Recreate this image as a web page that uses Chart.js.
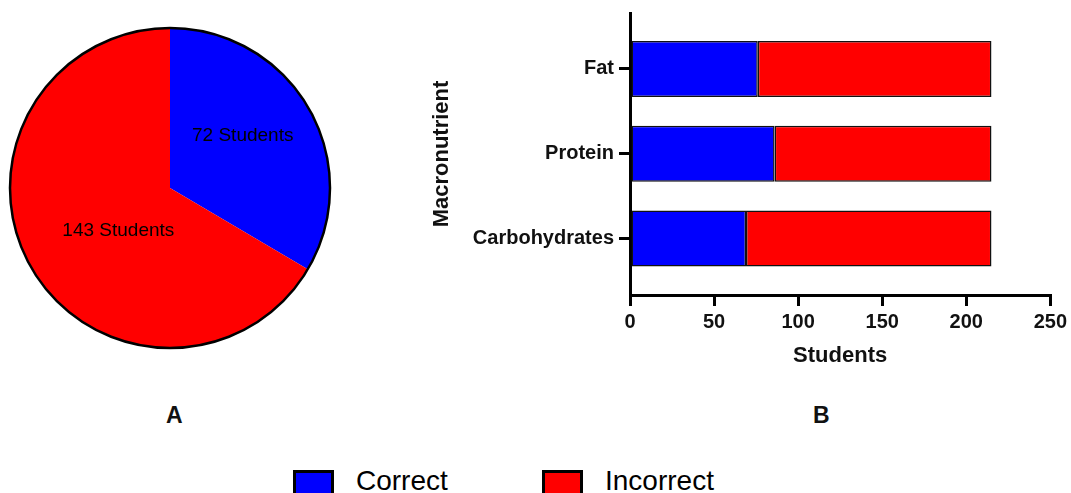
<!DOCTYPE html>
<html>
<head>
<meta charset="utf-8">
<script src="https://cdn.jsdelivr.net/npm/chart.js@4/dist/chart.umd.min.js"></script>
<style>
    body { margin: 0; background: #fff; width: 1071px; height: 493px; overflow: hidden; position: relative; font-family: 'Liberation Sans', Arial, sans-serif; }
    .box { position: absolute; }
    .panel { position: absolute; font-weight: bold; font-size: 23px; line-height: 1; color: #111; }
    .legend-box { position: absolute; width: 35px; height: 22px; border: 3px solid #000; }
    .legend-text { position: absolute; font-size: 28px; line-height: 1; color: #000; }
</style>
</head>
<body>
<div class="box" style="left:0; top:0; width:340px; height:376px;"><canvas id="pieChart"></canvas></div>
<div class="box" style="left:420px; top:0; width:651px; height:380px;"><canvas id="barChart"></canvas></div>

<div class="panel" style="left:166px; top:404px;">A</div>
<div class="panel" style="left:813px; top:404px;">B</div>

<div class="legend-box" style="left:293px; top:470px; background:#0000ff;"></div>
<div class="legend-text" style="left:356px; top:467px;">Correct</div>
<div class="legend-box" style="left:542px; top:470px; background:#ff0000;"></div>
<div class="legend-text" style="left:605px; top:467px;">Incorrect</div>

<script>
// dữ liệu
const answerLabels = ['Correct', 'Incorrect'];
const answerColors = ['#0000ff', '#ff0000'];
const pieValues = [72, 143];

const nutrients = ['Fat', 'Protein', 'Carbohydrates'];
const correctCounts = [76, 86, 69];
const incorrectCounts = [139, 129, 146];
const studentTicks = [0, 50, 100, 150, 200, 250];

const fontFamily = "'Liberation Sans', Arial, sans-serif";
Chart.defaults.font.family = fontFamily;
Chart.defaults.color = '#000';

// Biểu đồ A - pie
// viền ngoài và nhãn "N Students"
const pieDecor = {
    id: 'pieDecor',
    afterDatasetsDraw(chart) {
        const ctx = chart.ctx;
        const arcs = chart.getDatasetMeta(0).data;
        const spots = [{ r: 0.56, turn: -6 }, { r: 0.42, turn: -10 }];
        const first = arcs[0];

        ctx.save();
        ctx.beginPath();
        ctx.arc(first.x, first.y, first.outerRadius, 0, Math.PI * 2);
        ctx.lineWidth = 2.5;
        ctx.strokeStyle = '#000';
        ctx.stroke();

        ctx.font = '19px ' + fontFamily;
        ctx.fillStyle = '#000';
        ctx.textAlign = 'center';
        ctx.textBaseline = 'middle';
        arcs.forEach((arc, i) => {
            const mid = (arc.startAngle + arc.endAngle) / 2 + spots[i].turn * Math.PI / 180;
            const r = arc.outerRadius * spots[i].r;
            ctx.fillText(pieValues[i] + ' Students', arc.x + Math.cos(mid) * r, arc.y + Math.sin(mid) * r);
        });
        ctx.restore();
    }
};

const pieCtx = document.getElementById('pieChart').getContext('2d');
const pieChart = new Chart(pieCtx, {
    type: 'pie',
    data: {
        labels: answerLabels,
        datasets: [{
            data: pieValues,
            backgroundColor: answerColors,
            borderWidth: 0
        }]
    },
    options: {
        responsive: true,
        maintainAspectRatio: false,
        animation: false,
        events: [],
        layout: { padding: 10 },
        plugins: {
            legend: { display: false },
            tooltip: { enabled: false }
        }
    },
    plugins: [pieDecor]
});

// Biểu đồ B - thanh ngang xếp chồng
const barCtx = document.getElementById('barChart').getContext('2d');
const barChart = new Chart(barCtx, {
    type: 'bar',
    data: {
        datasets: [{
            label: answerLabels[0],
            data: correctCounts.map((v, i) => ({ x: v, y: i })),
            backgroundColor: answerColors[0],
            stack: 'all'
        }, {
            label: answerLabels[1],
            data: incorrectCounts.map((v, i) => ({ x: v, y: i })),
            backgroundColor: answerColors[1],
            stack: 'all'
        }]
    },
    options: {
        indexAxis: 'y',
        responsive: true,
        maintainAspectRatio: false,
        animation: false,
        events: [],
        layout: { padding: { top: 13, right: 18, left: 0, bottom: 0 } },
        datasets: {
            bar: {
                borderColor: '#111',
                borderWidth: 1.5,
                borderSkipped: false,
                barPercentage: 1,
                categoryPercentage: 0.66
            }
        },
        scales: {
            x: {
                type: 'linear',
                stacked: true,
                min: 0,
                max: 250,
                afterFit(scale) { scale.height = 85; },
                afterBuildTicks(scale) { scale.ticks = studentTicks.map(v => ({ value: v })); },
                border: { display: true, color: '#000', width: 3 },
                grid: { drawOnChartArea: false, drawTicks: true, tickLength: 11, color: '#000', lineWidth: 3 },
                ticks: { padding: 4, font: { size: 20, weight: 'bold' }, color: '#111' },
                title: {
                    display: true,
                    text: 'Students',
                    font: { size: 22, weight: 'bold' },
                    color: '#111',
                    padding: { top: 4, bottom: 11 }
                }
            },
            y: {
                type: 'linear',
                offset: false,
                reverse: true,
                min: -0.66,
                max: 2.667,
                afterFit(scale) {
                    scale.width = 210;
                    scale.paddingTop = 0;
                    scale.paddingBottom = 0;
                },
                afterBuildTicks(scale) { scale.ticks = nutrients.map((n, i) => ({ value: i })); },
                border: { display: true, color: '#000', width: 3 },
                grid: { offset: false, drawOnChartArea: false, drawTicks: true, tickLength: 11, color: '#000', lineWidth: 3 },
                ticks: {
                    padding: 5,
                    font: { size: 20, weight: 'bold' },
                    color: '#111',
                    callback: (value) => nutrients[value]
                },
                title: {
                    display: true,
                    text: 'Macronutrient',
                    font: { size: 22, weight: 'bold' },
                    color: '#111',
                    padding: { top: 9, bottom: 0 }
                }
            }
        },
        plugins: {
            legend: { display: false },
            tooltip: { enabled: false }
        }
    }
});
</script>
</body>
</html>
